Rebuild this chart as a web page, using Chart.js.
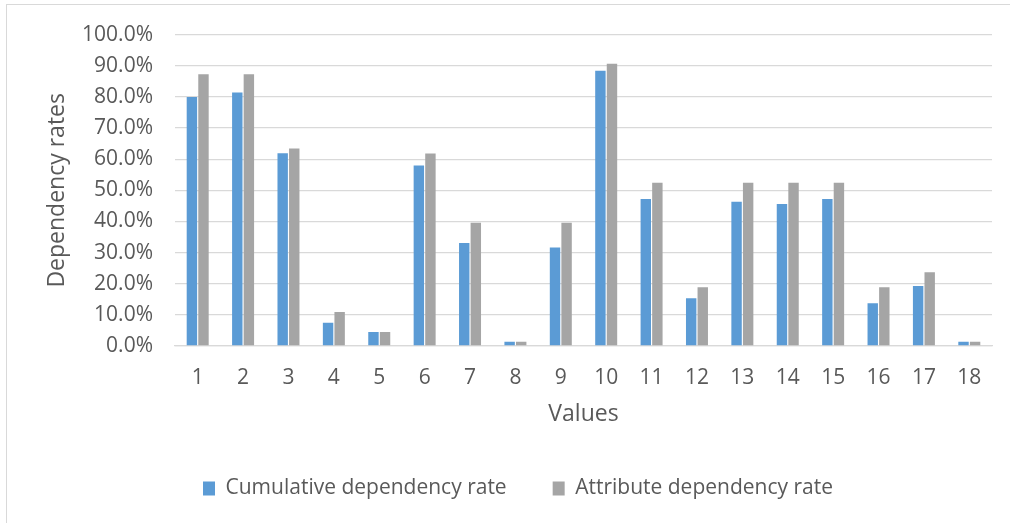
<!DOCTYPE html>
<html>
<head>
<meta charset="utf-8">
<script src="https://cdn.jsdelivr.net/npm/chart.js@4.4.1/dist/chart.umd.min.js"></script>
<style>
  html, body { margin: 0; padding: 0; background: #ffffff; }
  #wrap { position: relative; width: 1010px; height: 523px; overflow: hidden; }
  #frame { position: absolute; left: 6px; top: 4px; width: 1100px; height: 600px;
           border-left: 1.5px solid #d9d9d9; border-top: 1.5px solid #d9d9d9; pointer-events: none; }
  canvas { position: absolute; left: 0; top: 0; }
</style>
</head>
<body>
<div id="wrap">
  <div id="frame"></div>
  <canvas id="chart" width="1010" height="523"></canvas>
</div>
<script>
// Categories and series (percent values)
const categories = ['1','2','3','4','5','6','7','8','9','10','11','12','13','14','15','16','17','18'];
const cumulativeRate = [80.0, 81.4, 61.9, 7.5, 4.5, 58.0, 33.1, 1.4, 31.6, 88.4, 47.2, 15.3, 46.3, 45.6, 47.2, 13.7, 19.3, 1.4];
const attributeRate  = [87.3, 87.3, 63.4, 10.9, 4.5, 61.8, 39.6, 1.4, 39.6, 90.6, 52.4, 18.9, 52.4, 52.4, 52.4, 18.9, 23.7, 1.4];
const seriesNames = ['Cumulative dependency rate', 'Attribute dependency rate'];
const yTickValues = [0, 10, 20, 30, 40, 50, 60, 70, 80, 90, 100];

const FONT = '"Open Sans", "Noto Sans", sans-serif';
const TEXT = '#595959';
const GRID = '#d9d9d9';

new Chart(document.getElementById('chart'), {
  type: 'bar',
  data: {
    labels: categories,
    datasets: [
      { label: seriesNames[0], data: cumulativeRate, backgroundColor: '#5b9bd5',
        categoryPercentage: 0.51, barPercentage: 0.9 },
      { label: seriesNames[1], data: attributeRate, backgroundColor: '#a5a5a5',
        categoryPercentage: 0.51, barPercentage: 0.9 }
    ]
  },
  options: {
    responsive: false,
    animation: false,
    layout: { padding: { top: 33, right: 18, left: 44, bottom: 14 } },
    plugins: {
      tooltip: { enabled: false },
      legend: {
        position: 'bottom',
        maxHeight: 93,
        labels: {
          font: { family: FONT, size: 21 },
          color: TEXT,
          boxWidth: 12,
          boxHeight: 14,
          padding: 46
        }
      }
    },
    scales: {
      x: {
        afterFit(scale) { scale.height = 86; },
        grid: { display: false, drawTicks: false },
        border: { display: true, color: GRID, width: 1.3 },
        ticks: { font: { family: FONT, size: 21 }, color: TEXT, padding: 19, maxRotation: 0 },
        title: { display: true, text: 'Values', font: { family: FONT, size: 23 }, color: TEXT,
                 padding: { top: 0, bottom: 4 } }
      },
      y: {
        min: 0, max: 100,
        afterFit(scale) { scale.width = 131; },
        afterBuildTicks(scale) { scale.ticks = yTickValues.map(v => ({ value: v })); },
        grid: { color: GRID, lineWidth: 1.3, drawTicks: false },
        border: { display: false },
        ticks: {
          font: { family: FONT, size: 21 }, color: TEXT, padding: 22,
          callback: v => v.toFixed(1) + '%'
        },
        title: { display: true, text: 'Dependency rates', font: { family: FONT, size: 23 }, color: TEXT,
                 padding: { top: 0, bottom: 0 } }
      }
    }
  }
});
</script>
</body>
</html>
